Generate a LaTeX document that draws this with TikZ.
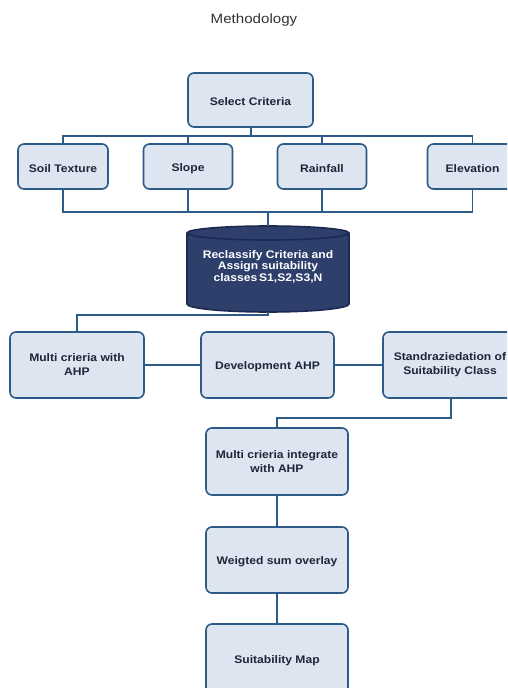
\documentclass[tikz,border=0pt]{standalone}
\usepackage{fontspec}
\newfontfamily\boxfont[FakeStretch=1.1]{Liberation Sans}
\newfontfamily\titlefont[FakeStretch=1.12]{Liberation Sans}
\definecolor{boxfill}{HTML}{DCE5F0}
\definecolor{boxline}{HTML}{2D5A86}
\definecolor{boxtext}{HTML}{1E2638}
\definecolor{cylfill}{HTML}{2E3F6C}
\definecolor{cylline}{HTML}{1C2A52}
\definecolor{titletext}{HTML}{333333}
\tikzset{
  procbox/.style={draw=boxline, line width=1.6pt, fill=boxfill, rounded corners=6pt,
    text=boxtext, align=center, inner sep=2pt,
    font=\boxfont\bfseries\fontsize{11}{14}\selectfont,
    execute at begin node={\rule{0pt}{12pt}}},
  conn/.style={draw=boxline, line width=1.6pt},
}
\begin{document}
\begin{tikzpicture}[x=1pt,y=-1pt]
\useasboundingbox (0,0) rectangle (507,688);
\fill[white] (0,0) rectangle (507,688);
\clip (0,0) rectangle (507,688);

\node[text=titletext, font=\titlefont\fontsize{13.5}{15}\selectfont] (title) at (254,20.5) {Methodology};

% row 1
\node[procbox, minimum width=125pt, minimum height=54pt] (sel) at (250.5,100) {Select Criteria};
% row 2
\node[procbox, minimum width=90pt, minimum height=45pt] (soil) at (63,166.5) {Soil Texture};
\node[procbox, minimum width=89pt, minimum height=45pt] (slope) at (188,166.5) {Slope};
\node[procbox, minimum width=89pt, minimum height=45pt] (rain) at (322,166.5) {Rainfall};
\node[procbox, minimum width=90pt, minimum height=45pt] (elev) at (472.5,166.5) {Elevation};

% cylinder
\node[minimum width=162pt, minimum height=86pt, inner sep=0pt] (cyl) at (268,269) {};
\draw[cylline, line width=1.6pt, fill=cylfill]
  (187,233) -- (187,304) arc (180:0:81 and 8) -- (349,233) arc (360:180:81 and 7) -- cycle;
\draw[cylline, line width=1.6pt] (187,233) arc (180:0:81 and 7);
\node[text=white, align=center, font=\boxfont\bfseries\fontsize{11}{11.5}\selectfont] (cyltext) at (268,266.5)
  {Reclassify Criteria and\\Assign suitability\\classes\,S1,S2,S3,N};

% row 3
\node[procbox, minimum width=134pt, minimum height=66pt] (multi) at (77,365) {Multi crieria with\\AHP};
\node[procbox, minimum width=133pt, minimum height=66pt] (dev) at (267.5,365) {Development AHP};
\node[procbox, minimum width=134pt, minimum height=66pt] (stand) at (450,365) {Standraziedation of\\Suitability Class};

% column
\node[procbox, minimum width=142pt, minimum height=67pt] (integ) at (277,461.5) {Multi crieria integrate\\with AHP};
\node[procbox, minimum width=142pt, minimum height=66pt] (weig) at (277,560) {Weigted sum overlay};
\node[procbox, minimum width=142pt, minimum height=70pt] (map) at (277,659) {Suitability Map};

% connectors
\coordinate (b1) at (251,136);
\coordinate (b2) at (268,212);
\coordinate (b3) at (268,315);
\coordinate (b4) at (451,418);

\draw[conn] (sel.south -| b1) -- (b1);
\draw[conn] (soil.north) |- (b1) -| (elev.north);
\draw[conn] (slope.north) -- (slope.north |- b1);
\draw[conn] (rain.north) -- (rain.north |- b1);

\draw[conn] (soil.south) |- (b2) -| (elev.south);
\draw[conn] (slope.south) -- (slope.south |- b2);
\draw[conn] (rain.south) -- (rain.south |- b2);
\draw[conn] (b2) -- (cyl.north);

\draw[conn] (cyl.south) -- (b3) -| (multi.north);
\draw[conn] (multi.east) -- (dev.west);
\draw[conn] (dev.east) -- (stand.west);
\draw[conn] (stand.south -| b4) -- (b4) -| (integ.north);
\draw[conn] (integ.south) -- (weig.north);
\draw[conn] (weig.south) -- (map.north);
\end{tikzpicture}
\end{document}
